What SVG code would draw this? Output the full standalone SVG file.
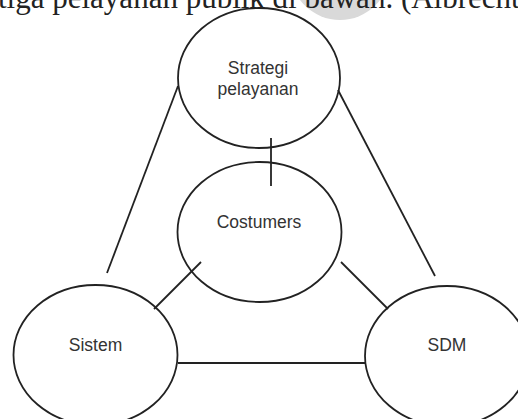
<svg xmlns="http://www.w3.org/2000/svg" width="518" height="419" viewBox="0 0 518 419">
  <style>
    .node ellipse { fill: none; stroke: #222; stroke-width: 1.8; }
    .label { font-family: "Liberation Sans", Arial, sans-serif; font-size: 17.5px; fill: #333; text-anchor: middle; }
    #connectors line { stroke: #222; stroke-width: 1.8; }
    .body { font-family: "Liberation Serif", "Times New Roman", serif; font-size: 31px; fill: #222; }
  </style>
  <rect width="518" height="419" fill="#fff"/>

  <!-- page text above the figure -->
  <circle cx="340" cy="-30" r="50" fill="#d9d9d9"/>
  <text class="body" x="-2" y="7.5">tiga pelayanan publik di bawah. (Albrecht</text>

  <g id="connectors">
    <line x1="178" y1="86" x2="107" y2="273"/>
    <line x1="338" y1="90" x2="435" y2="276"/>
    <line x1="271" y1="138" x2="271" y2="186"/>
    <line x1="201" y1="262" x2="154" y2="309"/>
    <line x1="341" y1="262" x2="388" y2="309"/>
    <line x1="178" y1="363" x2="365" y2="363"/>
  </g>

  <g id="strategi" class="node">
    <ellipse cx="259" cy="78" rx="81" ry="70"/>
    <text class="label" x="258" y="74">Strategi</text>
    <text class="label" x="258" y="95">pelayanan</text>
  </g>

  <g id="costumers" class="node">
    <ellipse cx="259.5" cy="232" rx="82" ry="70"/>
    <text class="label" x="259" y="228">Costumers</text>
  </g>

  <g id="sistem" class="node">
    <ellipse cx="95.5" cy="355" rx="82" ry="70"/>
    <text class="label" x="95.5" y="351">Sistem</text>
  </g>

  <g id="sdm" class="node">
    <ellipse cx="447" cy="356" rx="82" ry="70"/>
    <text class="label" x="447" y="351">SDM</text>
  </g>
</svg>
